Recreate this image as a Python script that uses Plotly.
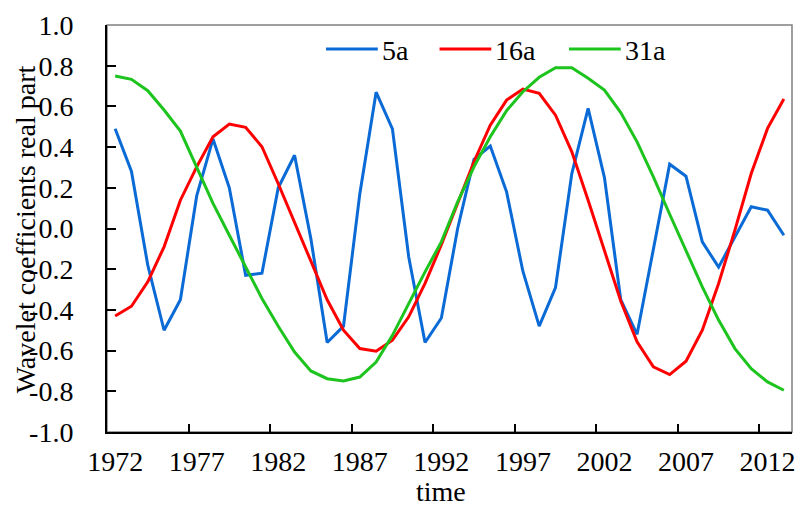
import plotly.graph_objects as go

years = list(range(1972, 2014))

s5a = [0.49, 0.28, -0.18, -0.50, -0.35, 0.16, 0.44, 0.20, -0.23, -0.22,
       0.20, 0.36, -0.05, -0.56, -0.48, 0.17, 0.67, 0.49, -0.14, -0.56,
       -0.44, 0.00, 0.34, 0.405, 0.18, -0.21, -0.48, -0.29, 0.27, 0.59,
       0.25, -0.35, -0.52, -0.11, 0.316, 0.257, -0.066, -0.19, -0.045, 0.107,
       0.09, -0.033]

s16a = [-0.43, -0.382, -0.262, -0.09, 0.139, 0.303, 0.451, 0.513, 0.497, 0.402,
        0.22, 0.03, -0.16, -0.35, -0.50, -0.59, -0.603, -0.549, -0.434, -0.27,
        -0.08, 0.12, 0.328, 0.508, 0.631, 0.685, 0.664, 0.557, 0.377, 0.139,
        -0.107, -0.356, -0.557, -0.68, -0.718, -0.652, -0.50, -0.27, -0.008, 0.27,
        0.492, 0.636]

s31a = [0.749, 0.733, 0.677, 0.582, 0.479, 0.303, 0.123, -0.033, -0.189, -0.344,
        -0.48, -0.607, -0.70, -0.738, -0.749, -0.73, -0.656, -0.525, -0.369, -0.213,
        -0.066, 0.131, 0.303, 0.451, 0.579, 0.672, 0.743, 0.79, 0.79, 0.738,
        0.68, 0.57, 0.426, 0.254, 0.07, -0.107, -0.287, -0.45, -0.59, -0.689,
        -0.754, -0.795]

series_names = ["5a", "16a", "31a"]
series_vals = [s5a, s16a, s31a]
colors = ["#0A6AD6", "#FF0000", "#1EC41E"]

tick_years = list(range(1972, 2013, 5))
tick_text = [str(y) for y in tick_years]
y_ticks = [round(-1.0 + 0.2 * i, 1) for i in range(11)]
y_text = ["%.1f" % v for v in y_ticks]

FONT = "Liberation Serif"
FS = 28

fig = go.Figure()
for name, vals, c in zip(series_names, series_vals, colors):
    fig.add_trace(go.Scatter(x=years, y=vals, mode="lines", name=name,
                             line=dict(color=c, width=3), showlegend=False))

# plot frame (top/right grey border)
fig.add_shape(type="rect", xref="paper", yref="paper", x0=0, y0=0, x1=1, y1=1,
              line=dict(color="#808080", width=1.5), layer="below")

L, R, T, B = 107, 795, 25, 432
def px(x):
    return (x - L) / (R - L)
def py(y):
    return (B - y) / (B - T)

# manual legend
leg_line_x = [327, 441, 571]
for name, c, lx in zip(series_names, colors, leg_line_x):
    fig.add_shape(type="line", xref="paper", yref="paper",
                  x0=px(lx), x1=px(lx + 52), y0=py(49), y1=py(49),
                  line=dict(color=c, width=3))
    fig.add_annotation(xref="paper", yref="paper", x=px(lx + 54), y=py(50),
                       text=name, showarrow=False, xanchor="left", yanchor="middle",
                       font=dict(family=FONT, size=FS, color="black"))

# axis titles
fig.add_annotation(xref="paper", yref="paper", x=px(442), y=py(491),
                   text="time", showarrow=False, xanchor="center", yanchor="middle",
                   borderpad=0,
                   font=dict(family=FONT, size=FS, color="black"))
fig.add_annotation(xref="paper", yref="paper", x=px(26), y=py(229),
                   text="Wavelet coefficients real part", showarrow=False, textangle=-90,
                   xanchor="center", yanchor="middle",
                   font=dict(family=FONT, size=FS, color="black"))

fig.update_layout(
    width=802, height=506,
    margin=dict(l=L, r=802 - R, t=T, b=506 - B),
    paper_bgcolor="white", plot_bgcolor="white",
    font=dict(family=FONT, size=FS, color="black"),
)

fig.update_xaxes(
    range=[1971.5, 2013.5], tickmode="array", tickvals=tick_years, ticktext=tick_text,
    ticks="", showgrid=False, zeroline=False,
    showline=True, linecolor="black", linewidth=2,
    ticklabelstandoff=3,
    minor=dict(tickmode="array", tickvals=[y - 0.5 for y in tick_years[1:]],
               ticks="inside", ticklen=8, tickwidth=1.5, tickcolor="black", showgrid=False),
    tickfont=dict(family=FONT, size=FS),
)

fig.update_yaxes(
    range=[-1.0, 1.0], tickmode="array", tickvals=y_ticks, ticktext=y_text,
    ticks="inside", ticklen=9, tickwidth=1.5, tickcolor="black",
    showgrid=False, zeroline=False,
    showline=True, linecolor="black", linewidth=2,
    ticklabelstandoff=26,
    tickfont=dict(family=FONT, size=FS),
)

fig.write_html("out.html", config={"displayModeBar": False},
               post_script="document.body.style.margin='0';document.body.style.overflow='hidden';")
